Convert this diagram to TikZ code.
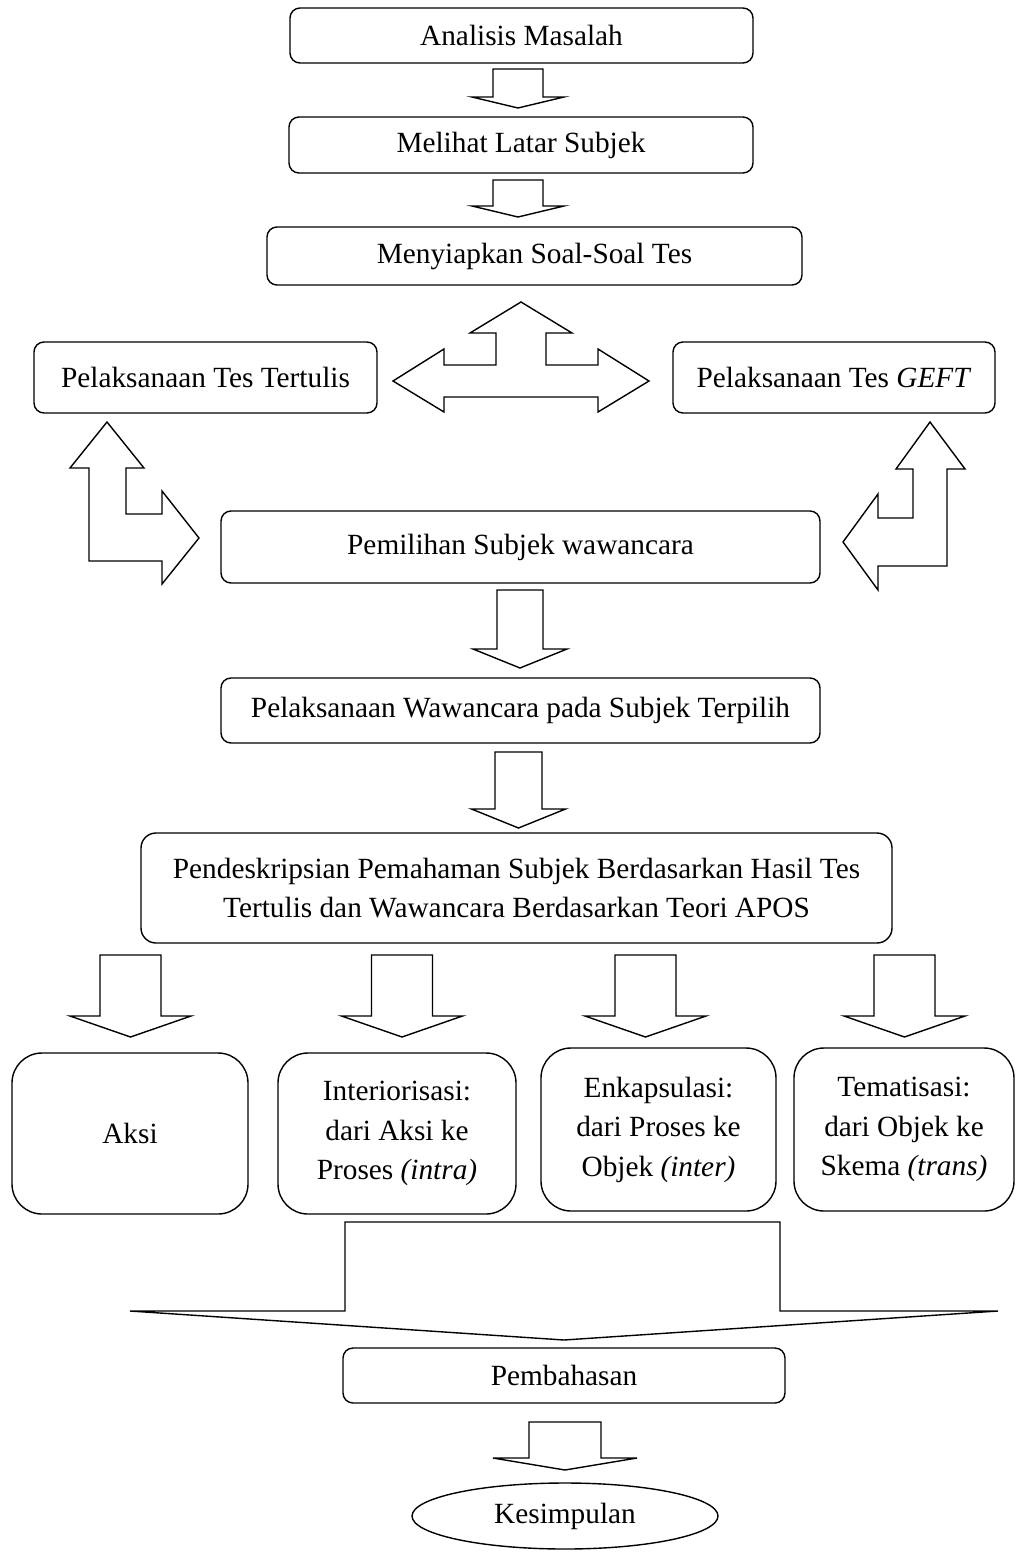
\documentclass[tikz,border=0pt]{standalone}
\usepackage{fontspec}
\setmainfont{Liberation Serif}
\usetikzlibrary{shapes.geometric}
\newcommand\blkdn[6]{% cx, top, half shaft, wing y, half wing, tip y
  \draw[blk] (#1-#3,#2) -- (#1+#3,#2) -- (#1+#3,#4) -- (#1+#5,#4) -- (#1,#6) -- (#1-#5,#4) -- (#1-#3,#4) -- cycle;}
\begin{document}
\begin{tikzpicture}[x=1pt,y=-1pt,
  box/.style={draw, line width=1.4pt, rounded corners=10pt, align=center, inner sep=0pt,
    font={\fontsize{29.3}{39.5}\selectfont}},
  bigbox/.style={box, rounded corners=30pt},
  blk/.style={draw, line width=1.4pt, line join=miter, fill=white}]
\useasboundingbox (0,0) rectangle (1016,1555);

% boxes
\node[box, minimum width=463pt, minimum height=55pt] (n1) at (521.5,35.5) {Analisis Masalah};
\node[box, minimum width=464pt, minimum height=56pt] (n2) at (521,145) {Melihat Latar Subjek};
\node[box, minimum width=535pt, minimum height=58pt] (n3) at (534.5,256) {Menyiapkan Soal-Soal Tes};
\node[box, minimum width=343pt, minimum height=71pt] (n4) at (205.5,377.5) {Pelaksanaan Tes Tertulis};
\node[box, minimum width=322pt, minimum height=71pt] (n5) at (834,377.5) {Pelaksanaan Tes \textit{GEFT}};
\node[box, minimum width=599pt, minimum height=72pt] (n6) at (520.5,547) {Pemilihan Subjek wawancara};
\node[box, minimum width=599pt, minimum height=65pt] (n7) at (520.5,710.5) {Pelaksanaan Wawancara pada Subjek Terpilih};
\node[box, rounded corners=15pt, minimum width=751pt, minimum height=110pt] (n8) at (516.5,888)
  {Pendeskripsian Pemahaman Subjek Berdasarkan Hasil Tes\\Tertulis dan Wawancara Berdasarkan Teori APOS};
\node[bigbox, minimum width=236pt, minimum height=161pt] (n9) at (130,1133.5) {Aksi};
\node[bigbox, minimum width=238pt, minimum height=161pt] (n10) at (397,1133.5)
  {Interiorisasi:\\dari Aksi ke\\Proses \textit{(intra)}};
\node[bigbox, minimum width=235pt, minimum height=163pt] (n11) at (658.5,1129.5)
  {Enkapsulasi:\\dari Proses ke\\Objek \textit{(inter)}};
\node[bigbox, minimum width=220pt, minimum height=163pt] (n12) at (904,1129.5)
  {Tematisasi:\\dari Objek ke\\Skema \textit{(trans)}};
\node[box, minimum width=442pt, minimum height=55pt] (n13) at (564,1375.5) {Pembahasan};
\node[draw, ellipse, line width=1.4pt, inner sep=0pt, minimum width=306pt, minimum height=66pt,
  font={\fontsize{29.3}{39.5}\selectfont}] (n14) at (565,1516) {Kesimpulan};

% simple down arrows
\blkdn{518}{69}{25}{97}{46}{108}
\blkdn{518}{180}{25}{206}{46}{217}
\blkdn{520}{590}{23}{649}{47}{668}
\blkdn{518.5}{752}{23.5}{809}{47}{828}
\blkdn{130.5}{955}{30.5}{1016}{60.5}{1037}
\blkdn{402}{955}{30.5}{1016}{60.5}{1037}
\blkdn{645.5}{955}{30.5}{1016}{60.5}{1037}
\blkdn{904.5}{955}{30.5}{1016}{60.5}{1037}
\draw[blk] (345,1222) -- (780,1222) -- (780,1311) -- (998,1311) -- (564,1340) -- (130,1311) -- (345,1311) -- cycle;
\blkdn{565}{1422}{36}{1458}{72}{1470}

% three-way arrow
\draw[blk] (521,302) -- (572,333) -- (546,333) -- (546,365) -- (598,365) -- (598,349) -- (649,381)
  -- (598,412) -- (598,397) -- (444,397) -- (444,412) -- (393,381) -- (444,349) -- (444,365)
  -- (496,365) -- (496,333) -- (470,333) -- cycle;

% left L arrow
\draw[blk] (107,422) -- (144,468) -- (126,468) -- (126,514) -- (162,514) -- (162,491) -- (199,538)
  -- (162,584) -- (162,561) -- (89,561) -- (89,468) -- (70,468) -- cycle;

% right L arrow
\draw[blk] (930,422) -- (965,469) -- (947,469) -- (947,566) -- (878,566) -- (878,590) -- (843,542)
  -- (878,494) -- (878,518) -- (913,518) -- (913,469) -- (896,469) -- cycle;
\end{tikzpicture}
\end{document}
